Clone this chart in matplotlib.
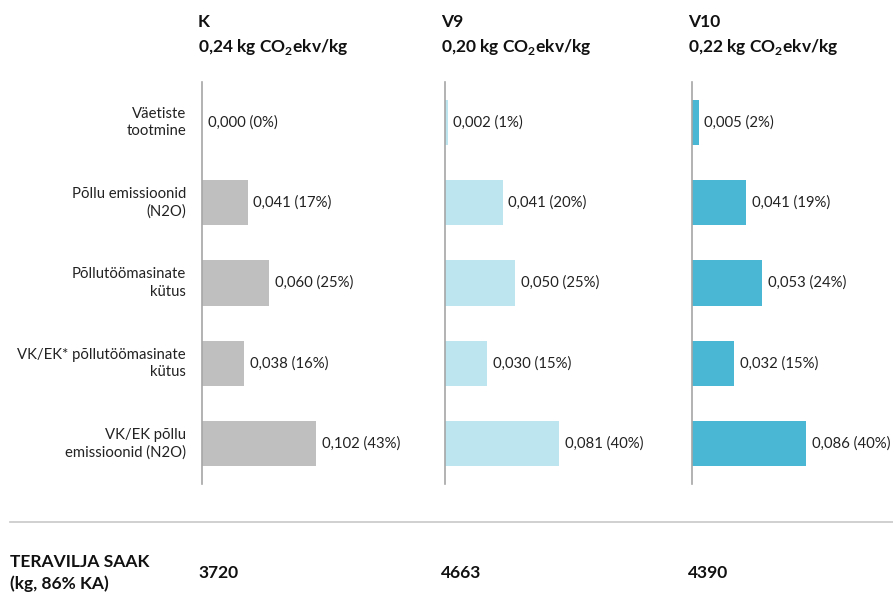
import matplotlib.pyplot as plt
from matplotlib.lines import Line2D

plt.rcParams['font.family'] = ['Lato', 'DejaVu Sans']
plt.rcParams['mathtext.fontset'] = 'custom'
plt.rcParams['mathtext.rm'] = 'Lato'
plt.rcParams['mathtext.bf'] = 'Lato:bold'

categories = ["Väetiste\ntootmine", "Põllu emissioonid\n(N2O)", "Põllutöömasinate\nkütus",
              "VK/EK* põllutöömasinate\nkütus", "VK/EK põllu\nemissioonid (N2O)"]
variants = ["K", "V9", "V10"]
totals = ["0,24", "0,20", "0,22"]
values_k = [0.000, 0.041, 0.060, 0.038, 0.102]
values_v9 = [0.002, 0.041, 0.050, 0.030, 0.081]
values_v10 = [0.005, 0.041, 0.053, 0.032, 0.086]
shares_k = [0, 17, 25, 16, 43]
shares_v9 = [1, 20, 25, 15, 40]
shares_v10 = [2, 19, 24, 15, 40]
yields = [3720, 4663, 4390]

colors = ["#bfbfbf", "#bde5ef", "#4ab8d4"]
W, H = 893, 594
fig = plt.figure(figsize=(W / 100, H / 100), dpi=100)

lefts = [202, 445, 692]
ax_w = 200
series = [(values_k, shares_k), (values_v9, shares_v9), (values_v10, shares_v10)]
bold = dict(fontsize=12.5, fontweight="bold", va="center", ha="left", color="#111111")

for i, (vals, shares) in enumerate(series):
    ax = fig.add_axes([lefts[i] / W, (H - 484) / H, ax_w / W, 402 / H])
    y = range(len(vals))
    ax.barh(y, vals, height=0.56, color=colors[i], left=0)
    ax.set_ylim(len(vals) - 0.5, -0.5)
    ax.set_xlim(0, max(vals) * ax_w / 114)
    for yy, v, s in zip(y, vals, shares):
        lbl = f"{v:.3f}".replace(".", ",") + f" ({s}%)"
        ax.annotate(lbl, (v, yy), xytext=(4, 0), textcoords="offset points",
                    va="center", ha="left", fontsize=10.7, color="#222222")
    for sp in ["top", "right", "bottom"]:
        ax.spines[sp].set_visible(False)
    ax.spines["left"].set_color("#a6a6a6")
    ax.spines["left"].set_linewidth(1.2)
    ax.set_xticks([])
    ax.set_yticks([])
    if i == 0:
        for yy, c in zip(y, categories):
            ax.text(-16 / ax_w * ax.get_xlim()[1], yy, c, ha="right", va="center",
                    fontsize=10.7, color="#222222", linespacing=1.3)

    x0 = (lefts[i] - 4) / W
    fig.text(x0, 1 - 22 / H, variants[i], **bold)
    fig.text(x0, 1 - 47 / H, totals[i] + r" kg CO$_\mathbf{2}$ekv/kg", **bold)
    fig.text(x0, 1 - 573 / H, str(yields[i]), **bold)

fig.add_artist(Line2D([10 / W, 1], [1 - 522 / H] * 2, color="#c8c8c8", lw=1.2))
fig.text(10 / W, 1 - 573 / H, "TERAVILJA SAAK\n(kg, 86% KA)", linespacing=1.35, **bold)

fig.savefig("out.png", dpi=100)
